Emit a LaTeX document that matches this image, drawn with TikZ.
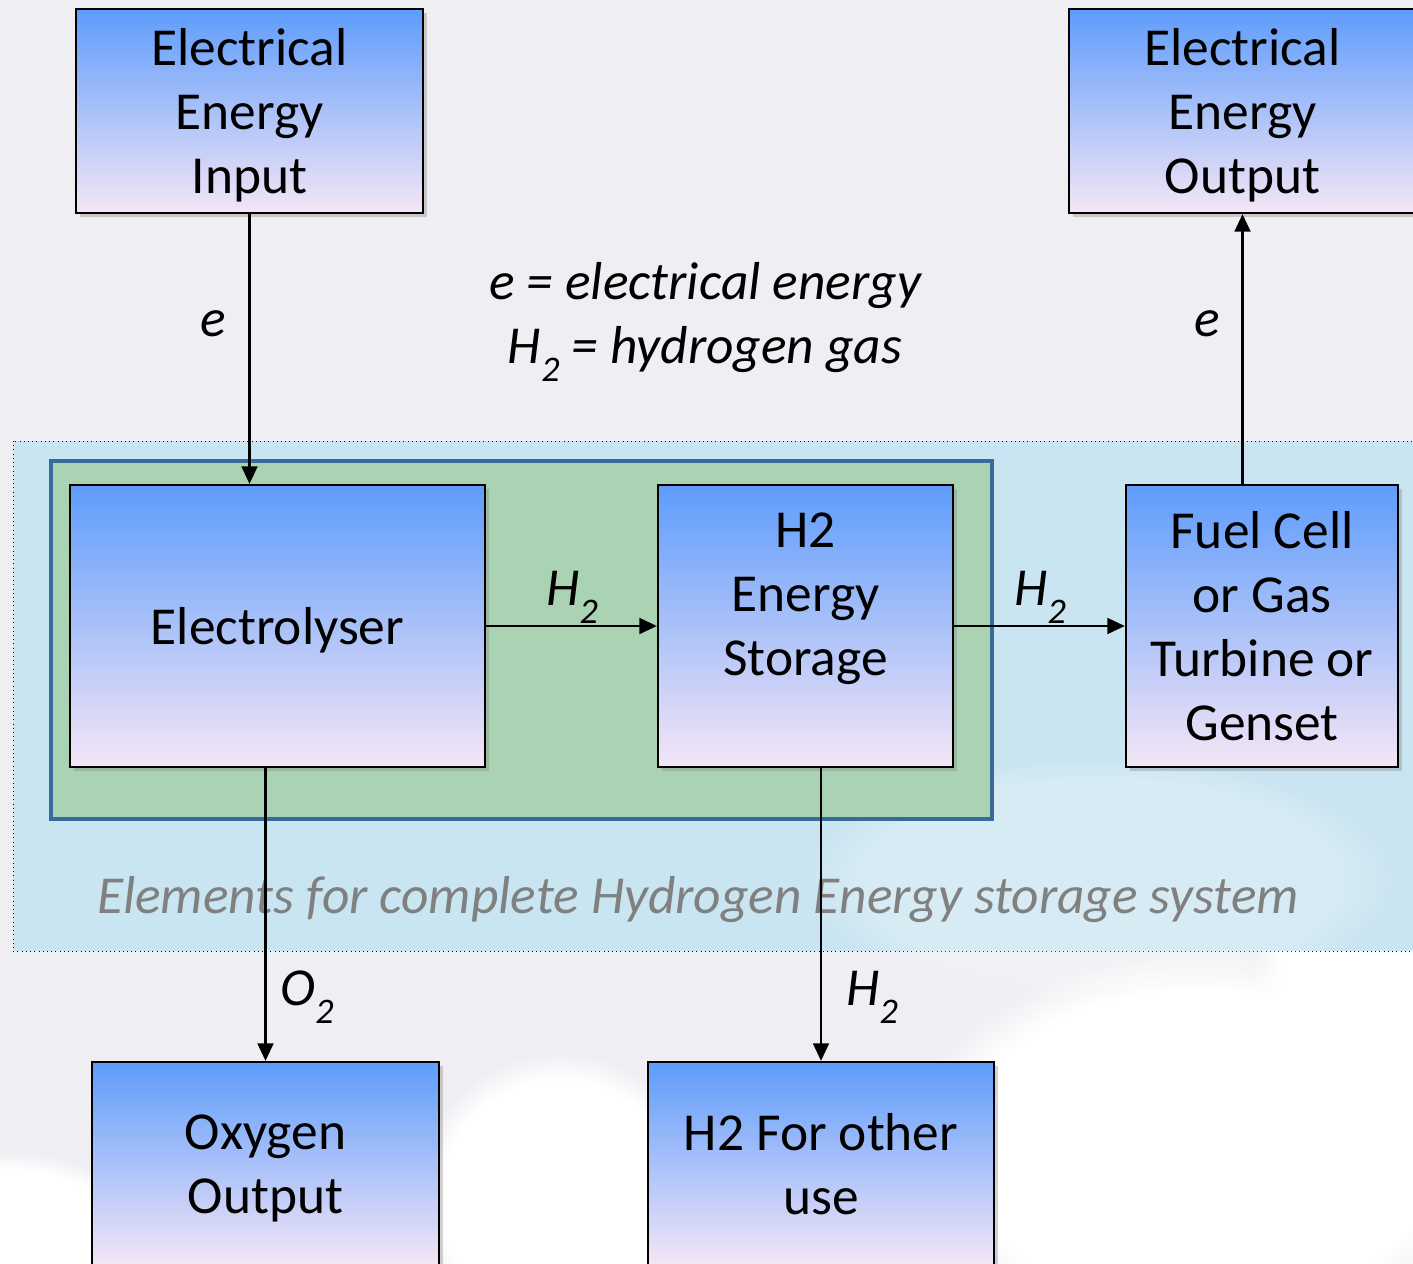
\documentclass[tikz,border=0pt]{standalone}
\usepackage{fontspec}
\setmainfont{Carlito}
\usetikzlibrary{arrows.meta,shadows,fadings}
\definecolor{boxtop}{HTML}{5E9CFB}
\definecolor{boxmid}{HTML}{80BCFE}
\definecolor{boxbot}{HTML}{F5E6F6}
\definecolor{sysgreen}{HTML}{AAD3B4}
\definecolor{sysblue}{HTML}{386A9C}
\definecolor{bgsky}{HTML}{C9E5F1}
\definecolor{bggray}{HTML}{EEEEF3}
\newcommand{\bigfont}{\fontsize{30.4}{36.4}\selectfont}
\newcommand{\gassub}[1]{\raisebox{-0.34em}{\fontsize{20.5}{20.5}\selectfont #1}}
\tikzset{
  block/.style={draw=black, line width=1.3pt, top color=boxtop, middle color=boxmid,
    bottom color=boxbot, align=center, font=\bigfont, text depth=0pt,
    drop shadow={shadow xshift=2.5pt, shadow yshift=-2.5pt, opacity=0.35}},
  flow/.style={line width=1.4pt, -{Triangle[length=10pt,width=9pt]}},
  tag/.style={font=\bigfont\itshape},
  cloud/.style={fill=white, path fading=circle with fuzzy edge 20 percent},
}
\begin{document}
\begin{tikzpicture}[x=0.02cm, y=-0.02cm]
    \useasboundingbox (0,0) rectangle (1413,1264);
    \clip (0,0) rectangle (1413,1264);
    % background and clouds
    \fill[bggray] (0,0) rectangle (1413,1264);
    \fill[cloud] (1200,1150) ellipse [x radius=6cm, y radius=4cm];
    \fill[cloud] (1400,1000) ellipse [x radius=3cm, y radius=5cm];
    \fill[cloud] (560,1200) ellipse [x radius=3cm, y radius=3cm];
    \fill[cloud] (10,1250) ellipse [x radius=3cm, y radius=2cm];
    % system area
    \draw[dotted, fill=bgsky] (13,441) rectangle (1440,951);
    \fill[white, opacity=0.25, path fading=circle with fuzzy edge 20 percent] (1100,880) ellipse [x radius=6cm, y radius=2.5cm];
    \draw[sysblue, line width=2.8pt, fill=sysgreen] (51,461) rectangle (992,819);
    \node[tag, text=gray] (caption) at (698,900) {Elements for complete Hydrogen Energy storage system};
    % blocks
    \node[block, minimum width=6.94cm, minimum height=4.08cm] (in) at (249.5,111) {Electrical\\Energy\\Input};
    \node[block, minimum width=6.94cm, minimum height=4.08cm] (out) at (1242.5,111) {Electrical\\Energy\\Output};
    \node[block, minimum width=8.3cm, minimum height=5.64cm] (elec) at (277.5,626) {Electrolyser};
    \node[block, minimum width=5.9cm, minimum height=5.64cm] (store) at (805.5,626) {H2\\Energy\\Storage\\\strut};
    \node[block, minimum width=5.44cm, minimum height=5.64cm] (fuel) at (1262,626) {Fuel Cell\\or Gas\\Turbine or\\Genset};
    \node[block, minimum width=6.94cm, minimum height=4.08cm] (oxy) at (265.5,1164) {Oxygen\\Output};
    \node[block, minimum width=6.92cm, minimum height=4.08cm] (other) at (821,1164) {H2 For other\\use};
    % legend
    \node[tag, align=center] (legend) at (705,322) {e = electrical energy\\H\gassub{2} = hydrogen gas};
    % flows
    \draw[flow] (in.south) -- (in.south |- elec.north);
    \draw[flow] (out.south |- fuel.north) -- (out.south);
    \draw[flow] (elec.east) -- (store.west);
    \draw[flow] (store.east) -- (fuel.west);
    \draw[flow] (oxy.north |- elec.south) -- (oxy.north);
    \draw[flow] (other.north |- store.south) -- (other.north);
    \node[tag] (ein) at (213,324) {e};
    \node[tag] (eout) at (1207,324) {e};
    \node[tag] (hstore) at (572,597) {H\gassub{2}};
    \node[tag] (hfuel) at (1040,597) {H\gassub{2}};
    \node[tag] (oxout) at (307,997) {O\gassub{2}};
    \node[tag] (hother) at (872,997) {H\gassub{2}};
\end{tikzpicture}
\end{document}
